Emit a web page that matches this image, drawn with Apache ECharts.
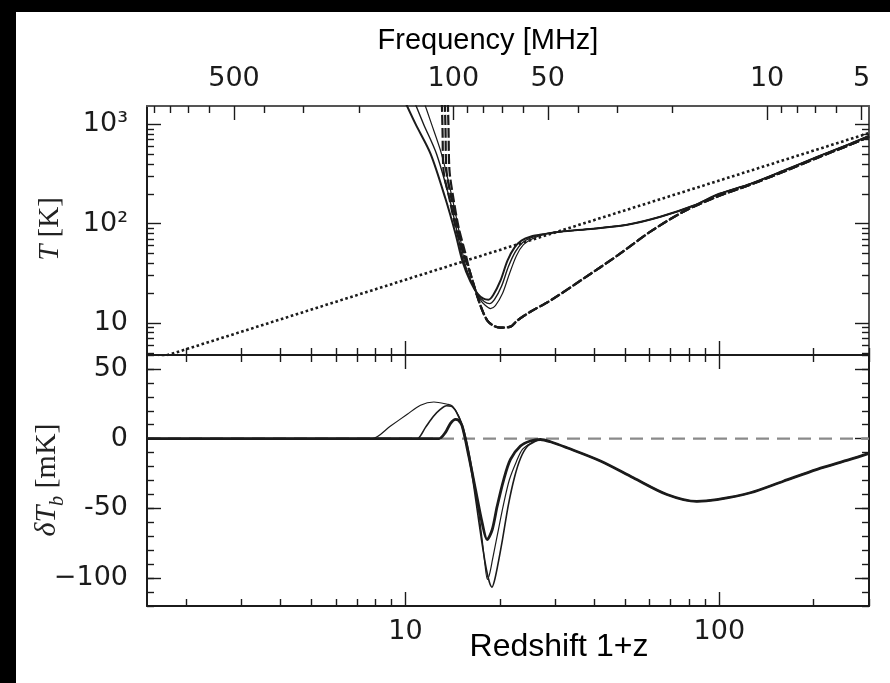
<!DOCTYPE html>
<html>
<head>
<meta charset="utf-8">
<script src="https://cdn.jsdelivr.net/npm/echarts@6/dist/echarts.min.js"></script>
<style>
  html, body { margin: 0; padding: 0; background: #fff; overflow: hidden; }
  #wrap { position: relative; width: 890px; height: 683px; background: #fff; }
  #chart { position: absolute; left: 0; top: 0; width: 890px; height: 683px; }
  .band { position: absolute; left: 0; top: 0; background: #000; }
</style>
</head>
<body>
<div id="wrap">
  <div id="chart"></div>
  <div class="band" style="width:16px;height:683px"></div>
  <div class="band" style="width:890px;height:12px"></div>
</div>
<script>
// 21-cm rest frequency (MHz): places the observed-frequency scale on the top axis
const REST_FREQ_MHZ = 1420.4;

// ---- tick positions and labels ----
const zTicksMinor = [2, 3, 4, 5, 6, 7, 8, 9, 20, 30, 40, 50, 60, 70, 80, 90, 200, 300];
const zTicksMajor = [10, 100];
const zTickLabels = ['10', '100'];
const freqTicksMinor = [900, 800, 700, 600, 400, 300, 200, 90, 80, 70, 60, 40, 30, 20, 9, 8, 7, 6];
const freqTicksMajor = [500, 100, 50, 10, 5];
const freqTickLabels = ['500', '100', '50', '10', '5'];
const tempTicksMinor = [5, 6, 7, 8, 9, 20, 30, 40, 50, 60, 70, 80, 90, 200, 300, 400, 500, 600, 700, 800, 900];
const tempTicksMajor = [10, 100, 1000];
const tempTickLabels = ['10', '10\u00b2', '10\u00b3'];
const dtbTicksMajor = [-100, -50, 0, 50];
const dtbTickLabels = ['\u2212100', '-50', '0', '50'];

// ---- upper panel: temperatures (1+z, K) ----
const cmbZ = [1.5, 10, 100, 300];
const cmbT = [4.09, 27.3, 272, 817];

// spin temperature, three source models (low-redshift part)
const spinZ_A = [11.16, 12.10, 13.02, 14.11, 14.86, 15.41, 16.35, 17.21, 17.98, 18.65, 19.34, 20.37, 21.44, 22.57, 23.76, 25.38];
const spinT_A = [2120, 1010, 505, 178, 79.3, 41.5, 24.4, 17.6, 15.0, 14.0, 15.0, 19.8, 31.4, 47.7, 61.5, 70.7];
const spinZ_B = [10.37, 11.41, 12.55, 13.81, 14.64, 15.30, 16.23, 17.08, 17.85, 18.51, 19.20, 20.21, 21.28, 22.40, 23.58, 25.19];
const spinT_B = [2120, 1010, 505, 178, 79.3, 41.5, 25.5, 18.9, 16.4, 15.7, 17.2, 23.3, 37.0, 52.3, 64.4, 72.3];
const spinZ_C = [9.64, 10.76, 12.02, 13.41, 14.43, 15.20, 16.10, 16.96, 17.72, 18.38, 19.06, 20.07, 21.13, 22.24, 23.41, 25.0];
const spinT_C = [2120, 1010, 505, 178, 79.3, 41.5, 26.1, 19.8, 17.6, 17.2, 19.3, 26.7, 42.5, 57.4, 67.5, 74.0];
// shared high-redshift part of the spin temperature
const spinTailZ = [27.9, 31.2, 39.7, 50.9, 64.9, 82.6, 100, 125.6, 160, 205, 261, 300];
const spinTailT = [79.0, 83.1, 89.1, 97.7, 117.6, 151.7, 200, 252, 341, 471, 637, 766];

// gas kinetic temperature, three models (heating onset), then shared history
const kinZ_A = [13.02, 13.12, 13.22, 13.81, 14.43, 15.30];
const kinZ_B = [13.31, 13.41, 13.51, 14.01, 14.64, 15.41];
const kinZ_C = [13.61, 13.71, 13.81, 14.22, 14.75, 15.53];
const kinT_head = [2275, 901, 341, 178, 93.3, 49.9];
const kinTailZ = [16.10, 16.83, 17.57, 18.23, 19.06, 20.07, 21.6, 22.7, 25.0, 29.0, 36.9, 47.3, 60.3, 76.8, 100, 125.6, 160, 205, 261, 300];
const kinTailT = [31.4, 19.8, 13.4, 10.6, 9.4, 9.0, 9.2, 10.6, 13.0, 16.9, 28.0, 47.7, 83.1, 132, 191, 247, 333, 460, 622, 748];

// ---- lower panel: differential brightness temperature (1+z, mK) ----
const dtbZ_A = [1.5, 7.6, 7.83, 8.96, 10.13, 11.16, 12.31, 13.58, 14.08, 14.78, 15.33, 15.91, 16.50, 17.12, 17.55, 17.91, 18.24, 18.58, 18.93, 19.63, 20.52, 21.44, 22.57, 23.58, 25.0];
const dtbT_A = [0, 0, 0, 9.1, 17.5, 24.0, 26.3, 24.7, 23.5, 16.3, 6.7, -8.9, -29.3, -53.2, -72.4, -90, -101, -96, -86.8, -68.8, -47.3, -29.3, -16.3, -7.7, -3.4];
const dtbZ_B = [1.5, 10.6, 10.9, 11.58, 12.28, 12.93, 13.51, 14.01, 14.54, 15.08, 15.64, 16.23, 16.83, 17.46, 18.11, 18.51, 18.86, 19.20, 19.63, 20.37, 21.28, 22.24, 23.24, 24.46, 25.94];
const dtbT_B = [0, 0, 0, 8.1, 16.0, 21.1, 23.6, 23.2, 18.9, 10.3, -4.1, -23.5, -47.3, -72.4, -94, -103, -106.5, -102, -92, -72.4, -47.3, -27.8, -14.2, -5.5, -1.9];
const dtbZ_C = [1.5, 12.5, 12.8, 13.41, 13.91, 14.43, 14.75, 15.15, 15.91, 16.71, 17.55, 18.20, 18.89, 19.59, 20.56, 21.60, 23.24, 25.0];
const dtbT_C = [0, 0, 0, 4.5, 11.0, 13.9, 13.2, 9.1, -12.5, -36.5, -60.4, -72.4, -65.3, -48.5, -29.3, -14.9, -5.3, -1.7];
const dtbTailZ = [26.9, 28.96, 32.7, 41.8, 53.2, 68.1, 84.8, 98.2, 125.6, 160, 205, 261, 300];
const dtbTailT = [-0.6, -2.2, -6.5, -16, -28, -40, -45, -43.7, -38.8, -30.5, -22, -14.9, -10.5];
const zeroZ = [1.5, 300];
const zeroT = [0, 0];

// ---------------------------------------------------------------
const INK = '#1b1b1b';
const SOFT_INK = '#555555';
const LABEL_FONT = 'DejaVu Sans';

function pairs(xs, ys) { return xs.map((x, i) => [x, ys[i]]); }
function lookup(values, labels) {
  return function (v) {
    let best = 0;
    values.forEach((t, i) => { if (Math.abs(t - v) < Math.abs(values[best] - v)) best = i; });
    return labels[best];
  };
}
const freqMajorZ = freqTicksMajor.map(f => REST_FREQ_MHZ / f);
const freqMinorZ = freqTicksMinor.map(f => REST_FREQ_MHZ / f);

function ticks(values, len) {
  const t = { show: true, inside: true, length: len, lineStyle: { color: INK, width: 1.4 } };
  if (values) t.customValues = values;
  return t;
}
function axis(o) {
  return Object.assign({
    splitLine: { show: false },
    axisLine: { show: false, onZero: false, lineStyle: { color: INK, width: 2 } },
    axisLabel: { show: false },
    axisPointer: { show: false }
  }, o);
}
function lineOn(color) { return { show: true, onZero: false, lineStyle: { color: color || INK, width: 2 } }; }
function labels(values, names, margin) {
  return {
    show: true, customValues: values, formatter: lookup(values, names),
    margin: margin, fontSize: 27, fontFamily: LABEL_FONT, color: INK
  };
}

const zAxis = { type: 'log', logBase: 10, min: 1.5, max: 300 };
const tAxis = { type: 'log', logBase: 10, min: 4.77, max: 1530 };
const dAxis = { type: 'value', min: -120, max: 60 };

const xAxis = [
  // upper panel
  axis(Object.assign({ gridIndex: 0, position: 'bottom', axisLine: lineOn(), axisTick: ticks(zTicksMinor, 7) }, zAxis)),
  axis(Object.assign({ gridIndex: 0, position: 'bottom', axisTick: ticks(zTicksMajor, 14) }, zAxis)),
  axis(Object.assign({ gridIndex: 0, position: 'top', axisLine: lineOn(SOFT_INK), axisTick: ticks(freqMinorZ, 7) }, zAxis)),
  axis(Object.assign({ gridIndex: 0, position: 'top', axisTick: ticks(freqMajorZ, 14),
    axisLabel: labels(freqMajorZ, freqTickLabels, 14) }, zAxis)),
  // lower panel
  axis(Object.assign({ gridIndex: 1, position: 'bottom', axisLine: lineOn(), axisTick: ticks(zTicksMinor, 7) }, zAxis)),
  axis(Object.assign({ gridIndex: 1, position: 'bottom', axisTick: ticks(zTicksMajor, 14),
    axisLabel: labels(zTicksMajor, zTickLabels, 12) }, zAxis)),
  axis(Object.assign({ gridIndex: 1, position: 'top', axisLine: lineOn(), axisTick: ticks(zTicksMinor, 7) }, zAxis)),
  axis(Object.assign({ gridIndex: 1, position: 'top', axisTick: ticks(zTicksMajor, 14) }, zAxis))
];

const yAxis = [
  axis(Object.assign({ gridIndex: 0, position: 'left', axisLine: lineOn(), axisTick: ticks(tempTicksMinor, 7) }, tAxis)),
  axis(Object.assign({ gridIndex: 0, position: 'left', axisTick: ticks(tempTicksMajor, 14),
    axisLabel: labels(tempTicksMajor, tempTickLabels, 19) }, tAxis)),
  axis(Object.assign({ gridIndex: 0, position: 'right', axisLine: lineOn(SOFT_INK), axisTick: ticks(tempTicksMinor, 7) }, tAxis)),
  axis(Object.assign({ gridIndex: 0, position: 'right', axisTick: ticks(tempTicksMajor, 14) }, tAxis)),
  axis(Object.assign({ gridIndex: 1, position: 'left', interval: 10, axisLine: lineOn(), axisTick: ticks(null, 7) }, dAxis)),
  axis(Object.assign({ gridIndex: 1, position: 'left', axisTick: ticks(dtbTicksMajor, 14),
    axisLabel: labels(dtbTicksMajor, dtbTickLabels, 19) }, dAxis)),
  axis(Object.assign({ gridIndex: 1, position: 'right', interval: 10, axisLine: lineOn(), axisTick: ticks(null, 7) }, dAxis)),
  axis(Object.assign({ gridIndex: 1, position: 'right', axisTick: ticks(dtbTicksMajor, 14) }, dAxis))
];

function curve(data, grid, width, type, extra) {
  return Object.assign({
    type: 'line', data: data, showSymbol: false, symbol: 'none', smooth: 0.3,
    xAxisIndex: grid === 0 ? 0 : 4, yAxisIndex: grid === 0 ? 0 : 4,
    lineStyle: { color: INK, width: width, type: type || 'solid' },
    emphasis: { disabled: true }, silent: true, clip: true
  }, extra || {});
}

const series = [
  curve(pairs(cmbZ, cmbT), 0, 2.6, [2.6, 2.6], { smooth: false }),
  curve(pairs(kinZ_A.concat(kinTailZ), kinT_head.concat(kinTailT)), 0, 2.2, [10, 3]),
  curve(pairs(kinZ_B.concat(kinTailZ), kinT_head.concat(kinTailT)), 0, 2.2, [10, 3]),
  curve(pairs(kinZ_C.concat(kinTailZ), kinT_head.concat(kinTailT)), 0, 2.2, [10, 3]),
  curve(pairs(spinZ_A.concat(spinTailZ), spinT_A.concat(spinTailT)), 0, 1.2),
  curve(pairs(spinZ_B.concat(spinTailZ), spinT_B.concat(spinTailT)), 0, 1.4),
  curve(pairs(spinZ_C.concat(spinTailZ), spinT_C.concat(spinTailT)), 0, 2.0),

  curve(pairs(zeroZ, zeroT), 1, 2.2, [13, 8], { smooth: false, lineStyle: { color: '#8a8a8a', width: 2.2, type: [13, 8] } }),
  curve(pairs(dtbZ_A.concat(dtbTailZ), dtbT_A.concat(dtbTailT)), 1, 1.2),
  curve(pairs(dtbZ_B.concat(dtbTailZ), dtbT_B.concat(dtbTailT)), 1, 1.6),
  curve(pairs(dtbZ_C.concat(dtbTailZ), dtbT_C.concat(dtbTailT)), 1, 2.8)
];

const chart = echarts.init(document.getElementById('chart'), null, { renderer: 'canvas' });
chart.setOption({
  animation: false,
  backgroundColor: '#ffffff',
  grid: [
    { left: 147, top: 106, width: 722, height: 249 },
    { left: 147, top: 355, width: 722, height: 251 }
  ],
  xAxis: xAxis,
  yAxis: yAxis,
  series: series,
  graphic: [
    { type: 'text', x: 488, y: 41,
      style: { text: 'Frequency [MHz]', font: '29px "Liberation Sans"', fill: '#000',
               textAlign: 'center', textVerticalAlign: 'middle', align: 'center', verticalAlign: 'middle' } },
    { type: 'text', x: 559, y: 647,
      style: { text: 'Redshift 1+z', font: '32px "Liberation Sans"', fill: '#000',
               textAlign: 'center', textVerticalAlign: 'middle', align: 'center', verticalAlign: 'middle' } },
    { type: 'text', x: 50, y: 229, rotation: Math.PI / 2,
      style: { text: '{i|T} [K]', font: '29px "Liberation Serif"', fill: '#222',
               textAlign: 'center', textVerticalAlign: 'middle', align: 'center', verticalAlign: 'middle',
               rich: { i: { fontStyle: 'italic', fontSize: 29, fontFamily: 'Liberation Serif' } } } },
    { type: 'text', x: 50, y: 480, rotation: Math.PI / 2,
      style: { text: '{i|\u03b4T}{s|b}{n| [mK]}', font: '30px "Liberation Serif"', fill: '#222',
               textAlign: 'center', textVerticalAlign: 'middle', align: 'center', verticalAlign: 'middle',
               rich: {
                 i: { fontStyle: 'italic', fontSize: 30, fontFamily: 'Liberation Serif', lineHeight: 35, verticalAlign: 'top' },
                 s: { fontStyle: 'italic', fontSize: 20, fontFamily: 'Liberation Serif', lineHeight: 20, verticalAlign: 'bottom' },
                 n: { fontSize: 30, fontFamily: 'Liberation Serif', lineHeight: 35, verticalAlign: 'top' }
               } } }
  ]
});
</script>
</body>
</html>
